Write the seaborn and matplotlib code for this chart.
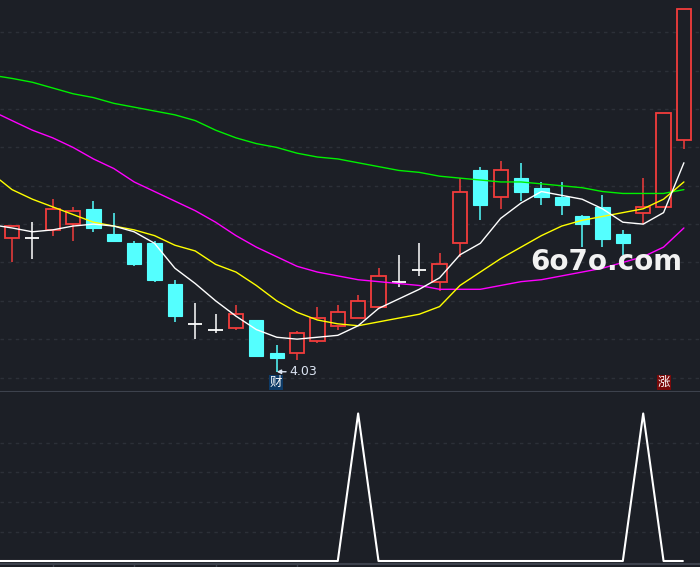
import numpy as np
import pandas as pd
import matplotlib
matplotlib.use("Agg")
import matplotlib.pyplot as plt
import seaborn as sns

# ---------------- data ----------------
opens  = [4.73, 4.73, 4.77, 4.80, 4.88, 4.75, 4.70, 4.70, 4.49, 4.28, 4.25, 4.26, 4.30, 4.13, 4.13, 4.19, 4.27,
          4.31, 4.37, 4.50, 4.56, 4.50, 4.70, 5.08, 4.94, 5.04, 4.99, 4.94, 4.84, 4.89, 4.75, 4.86, 4.89, 5.24]
highs  = [4.79, 4.81, 4.93, 4.89, 4.92, 4.86, 4.71, 4.71, 4.51, 4.39, 4.33, 4.38, 4.30, 4.17, 4.24, 4.37, 4.38,
          4.43, 4.57, 4.64, 4.70, 4.65, 5.04, 5.10, 5.13, 5.12, 5.02, 5.02, 4.85, 4.95, 4.77, 5.04, 5.38, 5.92]
lows   = [4.60, 4.62, 4.74, 4.71, 4.76, 4.71, 4.58, 4.50, 4.29, 4.20, 4.23, 4.25, 4.11, 4.03, 4.09, 4.18, 4.25,
          4.31, 4.37, 4.47, 4.53, 4.45, 4.63, 4.82, 4.88, 4.92, 4.90, 4.85, 4.68, 4.68, 4.64, 4.80, 4.89, 5.19]
closes = [4.79, 4.73, 4.88, 4.87, 4.78, 4.71, 4.59, 4.51, 4.32, 4.28, 4.25, 4.33, 4.11, 4.10, 4.23, 4.31, 4.34,
          4.40, 4.53, 4.50, 4.56, 4.59, 4.97, 4.90, 5.08, 4.97, 4.94, 4.90, 4.80, 4.72, 4.70, 4.89, 5.38, 5.92]

# moving-average lines (first value = left edge of the chart, then one per candle)
ma_white   = [4.79, 4.78, 4.76, 4.77, 4.79, 4.80, 4.79, 4.76, 4.70, 4.57, 4.49, 4.40, 4.32, 4.25, 4.21, 4.20, 4.21,
              4.22, 4.27, 4.36, 4.41, 4.46, 4.52, 4.64, 4.70, 4.83, 4.91, 4.97, 4.95, 4.93, 4.88, 4.81, 4.80, 4.86, 5.12]
ma_yellow  = [5.03, 4.98, 4.93, 4.89, 4.85, 4.81, 4.79, 4.77, 4.74, 4.69, 4.66, 4.59, 4.55, 4.48, 4.40, 4.34, 4.30,
              4.28, 4.27, 4.29, 4.31, 4.33, 4.37, 4.48, 4.55, 4.62, 4.68, 4.74, 4.79, 4.82, 4.84, 4.86, 4.88, 4.93, 5.02]
ma_magenta = [5.37, 5.34, 5.29, 5.25, 5.20, 5.14, 5.09, 5.02, 4.97, 4.92, 4.87, 4.81, 4.74, 4.68, 4.63, 4.58, 4.55,
              4.53, 4.51, 4.50, 4.49, 4.48, 4.46, 4.46, 4.46, 4.48, 4.50, 4.51, 4.53, 4.55, 4.57, 4.60, 4.63, 4.68, 4.78]
ma_green   = [5.57, 5.56, 5.54, 5.51, 5.48, 5.46, 5.43, 5.41, 5.39, 5.37, 5.34, 5.29, 5.25, 5.22, 5.20, 5.17, 5.15,
              5.14, 5.12, 5.10, 5.08, 5.07, 5.05, 5.04, 5.03, 5.02, 5.02, 5.01, 5.00, 4.99, 4.97, 4.96, 4.96, 4.96, 4.98]

signal = [0, 0, 0, 0, 0, 0, 0, 0, 0, 0, 0, 0, 0, 0, 0, 0, 0, 0, 100, 0, 0, 0, 0, 0, 0, 0, 0, 0, 0, 0, 0, 0, 100, 0, 0]

low_label = "4.03"
low_index = 13
tag_cai = "财"
tag_zhang = "涨"
zhang_index = 32
watermark = "6o7o.com"
price_grid = [4.0, 4.2, 4.4, 4.6, 4.8, 5.0, 5.2, 5.4, 5.6, 5.8]
signal_grid = [20, 40, 60, 80]
sep_ticks = [2, 6, 10, 14]

# ---------------- style ----------------
sns.set_theme(style="dark")
plt.rcParams['font.family'] = ['DejaVu Sans', 'Noto Sans CJK SC']

BG = "#1c1f26"
GRID = "#2c3038"
SPINE = "#3d424d"
RED = "#f23c3c"
CYAN = "#54ffff"

n = len(opens)
xl, xr = -0.59, 33.79
idx = np.arange(n)
line_x = np.r_[xl, idx]
signal_x = np.r_[xl, idx[:-1], n - 1.05]

fig = plt.figure(figsize=(7, 5.67), dpi=100)
fig.patch.set_facecolor(BG)
ax = fig.add_axes([0, 175.5 / 567, 1, 391.5 / 567])
ax2 = fig.add_axes([0, 3 / 567, 1, 172.5 / 567])

for a in (ax, ax2):
    a.set_facecolor(BG)
    a.set_xlim(xl, xr)
    a.set_xticks([])
    a.set_yticks([])
    for s in ("top", "left", "right"):
        a.spines[s].set_visible(False)
    a.spines["bottom"].set_color(SPINE)
    a.spines["bottom"].set_linewidth(1.5)
    a.grid(False)

ax.set_ylim(3.927, 5.969)
ax2.set_ylim(-2.03, 114.9)

for g in price_grid:
    ax.axhline(g, color=GRID, lw=1.0, ls=(0, (2.5, 3)), zorder=0)
for g in signal_grid:
    ax2.axhline(g, color=GRID, lw=1.0, ls=(0, (2.5, 3)), zorder=0)

# ---------------- candles ----------------
W = 0.70
for i in range(n):
    o, h, l, c = opens[i], highs[i], lows[i], closes[i]
    if c > o:
        col = RED
        ax.vlines(i, l, h, color=col, lw=1.1, zorder=2)
        ax.bar(i, c - o, bottom=o, width=W, color=BG, edgecolor=col, linewidth=1.3, zorder=3)
    elif c < o:
        col = CYAN
        ax.vlines(i, l, h, color=col, lw=1.1, zorder=2)
        ax.bar(i, o - c, bottom=c, width=W, color=col, edgecolor=col, linewidth=0.8, zorder=3)
    else:
        col = "white"
        ax.vlines(i, l, h, color=col, lw=1.1, zorder=2)
        ax.hlines(o, i - W / 2, i + W / 2, color=col, lw=1.3, zorder=3)

# ---------------- MA lines ----------------
for vals, col in ((ma_green, "#00f000"), (ma_magenta, "#ff00ff"),
                  (ma_yellow, "#ffff00"), (ma_white, "#ffffff")):
    sns.lineplot(x=line_x, y=vals, ax=ax, color=col, lw=1.0, estimator=None,
                 sort=False, legend=False, zorder=4)

# ---------------- annotations ----------------
ax.annotate(low_label, xy=(low_index, lows[low_index]), xytext=(low_index + 0.62, lows[low_index]),
            color="#dbe4f2", fontsize=9, va="center", ha="left",
            arrowprops=dict(arrowstyle="-|>", color="#dbe4f2", lw=1.0, mutation_scale=6,
                            shrinkA=0, shrinkB=0), zorder=6)
ax.text(low_index - 0.05, 3.975, tag_cai, color="white", fontsize=9, ha="center", va="center",
        family=['Noto Sans CJK SC', 'DejaVu Sans'],
        bbox=dict(boxstyle="square,pad=0.06", fc="#0d3a66", ec="none"), zorder=6)
ax.text(zhang_index, 3.975, tag_zhang, color="white", fontsize=9, ha="center", va="center",
        family=['Noto Sans CJK SC', 'DejaVu Sans'],
        bbox=dict(boxstyle="square,pad=0.06", fc="#7a0a0a", ec="none"), zorder=6)

fig.text(530 / 700, 1 - 262 / 567, watermark, color="#f2f2f2", fontsize=20, fontweight="bold",
         ha="left", va="center", zorder=10)

# ---------------- signal panel ----------------
sns.lineplot(x=signal_x, y=signal, ax=ax2, color="white",
             lw=1.5, estimator=None, sort=False, legend=False)
ax2.set_xticks(sep_ticks)
ax2.tick_params(axis="x", direction="out", length=3, color=SPINE, width=1, labelbottom=False, bottom=True)

fig.savefig("out.png", dpi=100, facecolor=BG)
